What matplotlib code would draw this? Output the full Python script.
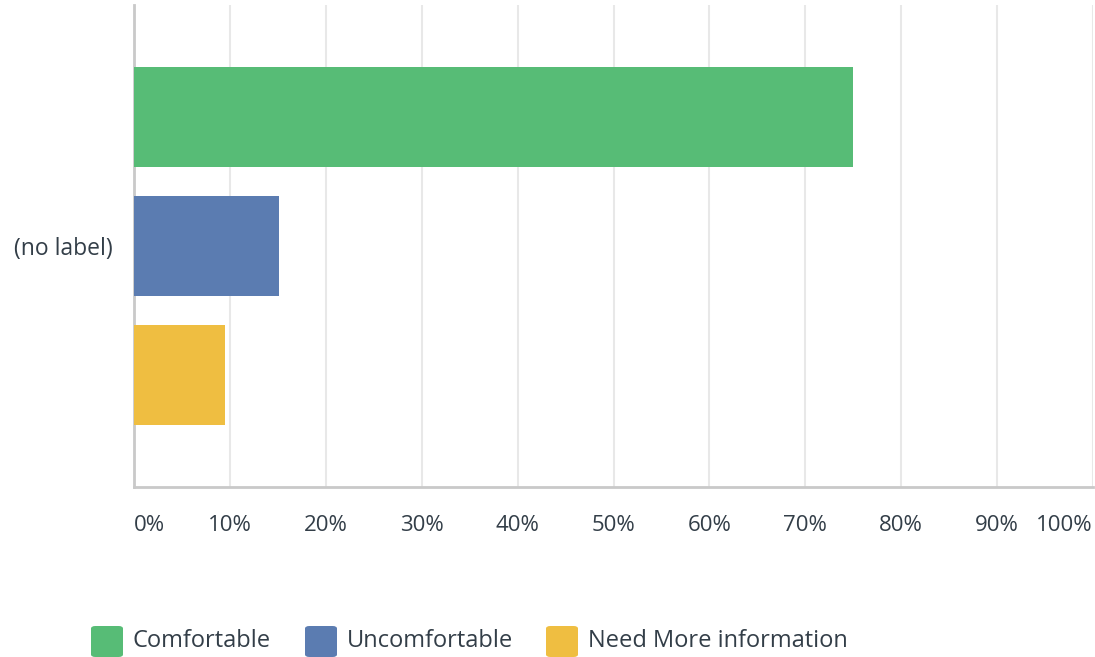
import matplotlib.pyplot as plt
from matplotlib.patches import FancyBboxPatch

plt.rcParams.update({
    'font.family': ['Open Sans', 'DejaVu Sans'],
    'font.size': 16,
})

TEXT = '#333e48'
GRID = '#e8e8e8'
AXIS = '#c9c9c9'

group_label = '(no label)'
answers = ['Comfortable', 'Uncomfortable', 'Need More information']
shares = [75.0, 15.1, 9.5]
colors = ['#57bc76', '#5b7cb1', '#efbe41']
ticks = [0, 10, 20, 30, 40, 50, 60, 70, 80, 90, 100]
tick_labels = [f'{t}%' for t in ticks]

W, H = 1095, 657
fig = plt.figure(figsize=(W / 100, H / 100), dpi=100, facecolor='white')
ax = fig.add_axes([134 / W, 1 - 487 / H, (1093 - 134) / W, (487 - 5) / H])

ypos = list(range(len(answers)))
ax.barh(ypos, shares, height=0.778, color=colors, zorder=3)

ax.set_xlim(0, 100)
ax.set_ylim(2.875, -0.875)
ax.set_xticks(ticks)
ax.set_xticklabels(tick_labels, color=TEXT, fontsize=16)
ax.set_yticks([1])
ax.set_yticklabels([group_label], color=TEXT, fontsize=16.5)
ax.tick_params(axis='both', length=0)
ax.tick_params(axis='x', pad=20)
ax.tick_params(axis='y', pad=15)

xl = ax.get_xticklabels()
xl[0].set_ha('left')
xl[-1].set_ha('right')

ax.grid(axis='x', color=GRID, linewidth=1.5, zorder=0)
for s in ['top', 'right']:
    ax.spines[s].set_visible(False)
for s in ['left', 'bottom']:
    ax.spines[s].set_color(AXIS)
    ax.spines[s].set_linewidth(2)

# legend row with rounded colour swatches
swatch_x = [91, 305, 546]
for x0, name, c in zip(swatch_x, answers, colors):
    box = FancyBboxPatch((x0 / W, 1 - 657 / H), 32 / W, 31 / H,
                         boxstyle='round,pad=0,rounding_size=0.004',
                         transform=fig.transFigure, facecolor=c,
                         edgecolor='none')
    fig.patches.append(box)
    fig.text((x0 + 42) / W, 1 - 641 / H, name, color=TEXT, fontsize=17,
             va='center', ha='left')

fig.savefig('out.png', dpi=100, facecolor='white')
